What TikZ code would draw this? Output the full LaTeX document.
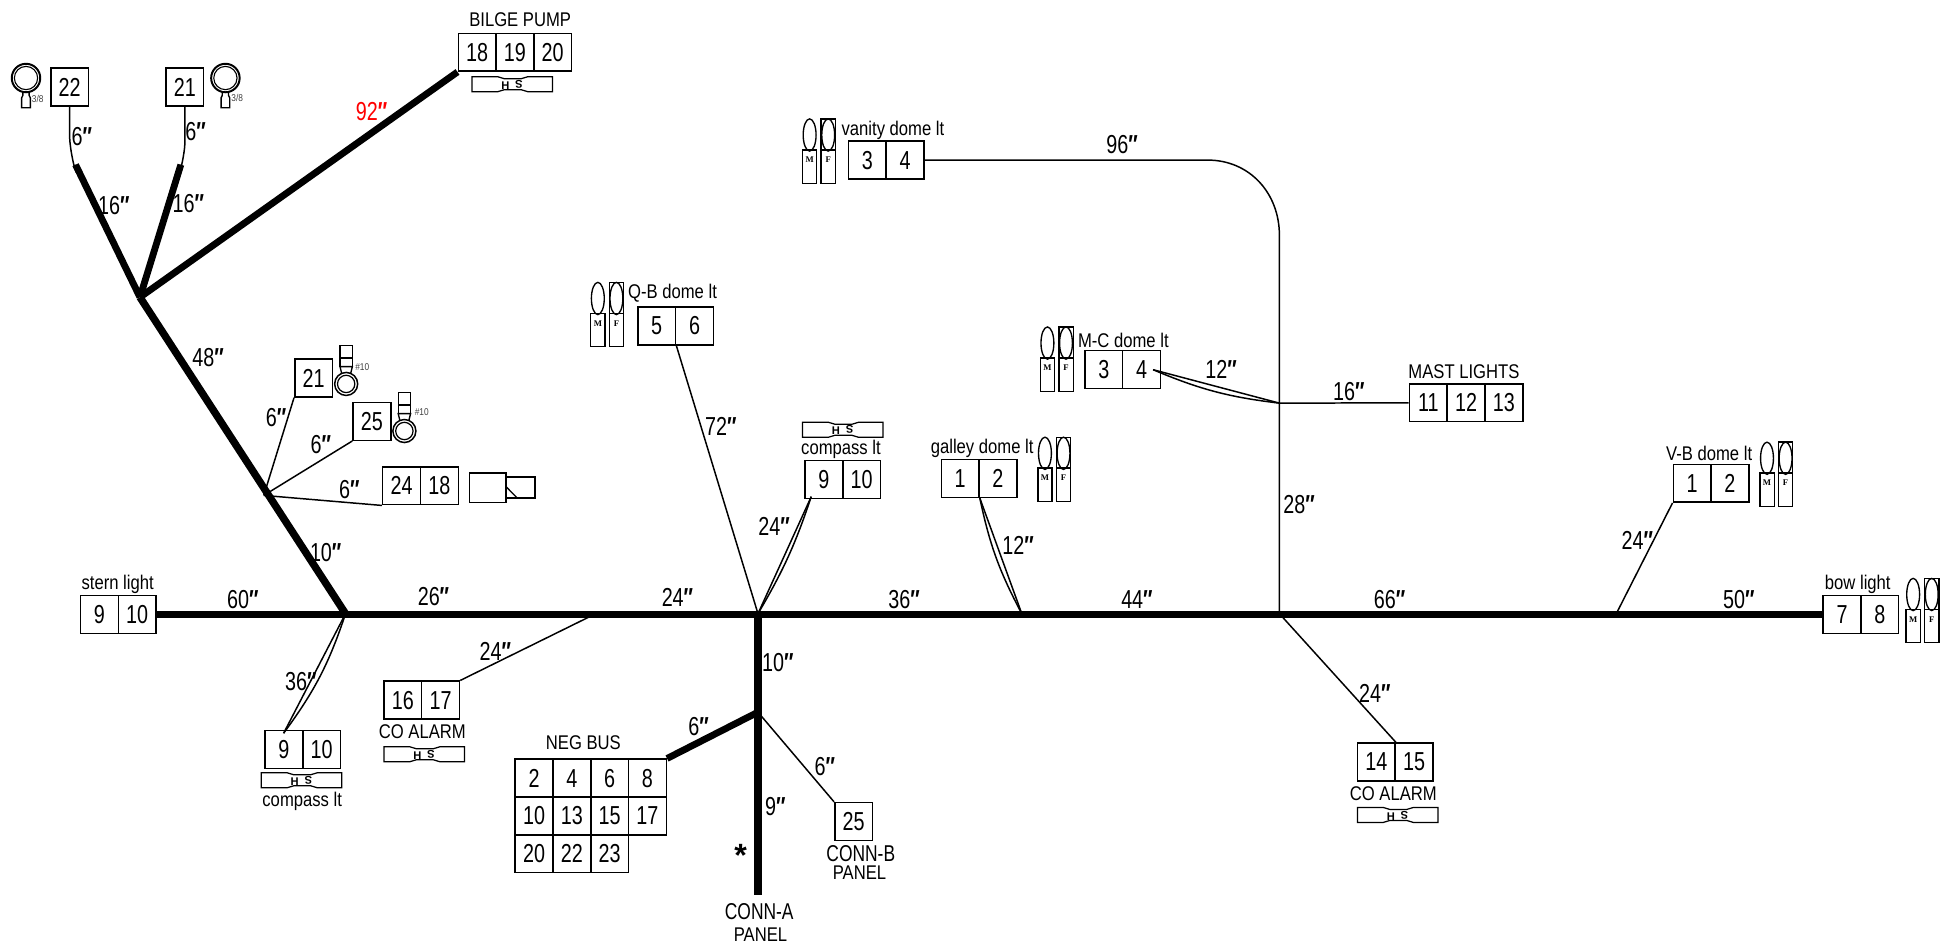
\documentclass[tikz,border=0pt]{standalone}
\usepackage{fontspec}
\usepackage{graphicx}
\setmainfont{Liberation Sans}
\newfontfamily\lblfont[FakeStretch=0.84]{Liberation Sans}
\newfontfamily\numfont[FakeStretch=0.76]{Liberation Sans}
\newfontfamily\mffont{Liberation Serif}
\newcommand\inch{{\bfseries\char"2033\relax}}
\tikzset{
  x=1pt,y=-1pt,
  thinw/.style={line width=1.2pt},
  thickw/.style={line width=6pt},
  cell/.style={draw,line width=1.2pt,minimum width=30.5pt,minimum height=30.5pt,inner sep=0pt,font=\numfont\fontsize{21}{21}\selectfont},
  lbl/.style={inner sep=0pt,font=\lblfont\fontsize{16}{16}\selectfont},
  len/.style={inner sep=0pt,font=\numfont\fontsize{21}{21}\selectfont},
  tiny/.style={inner sep=0pt,text=black!75,font=\lblfont\fontsize{8}{8}\selectfont},
  cad/.style={inner sep=0pt,font=\numfont\fontsize{18.5}{18.5}\selectfont},
  hstag/.pic={
    \draw[line width=1pt] (0,0) -- (21,0) -- (26,1.5) -- (40,1.5) -- (45,0) -- (65,0) -- (65,12) -- (45,12) -- (40,10.5) -- (26,10.5) -- (21,12) -- (0,12) -- cycle;
    \node[inner sep=0pt,font=\bfseries\fontsize{9}{9}\selectfont] (-h) at (27,7) {H};
    \node[inner sep=0pt,rotate=180,font=\bfseries\fontsize{9}{9}\selectfont] (-s) at (38,6) {S};
  },
  mfpair/.pic={
    \draw[line width=1.1pt] (5.7,13) ellipse (5.2 and 13);
    \draw[line width=1.1pt] (0,25) rectangle (11.5,52);
    \node[inner sep=0pt,font=\mffont\bfseries\fontsize{7}{7}\selectfont] (-m) at (5.7,33) {M};
    \draw[line width=1.1pt] (15,0) rectangle (26.5,52);
    \draw[line width=1.1pt] (15,25) -- (26.5,25);
    \draw[line width=1.1pt] (20.7,13) ellipse (5.2 and 13);
    \node[inner sep=0pt,font=\mffont\bfseries\fontsize{7}{7}\selectfont] (-f) at (20.7,33) {F};
  },
  loopring/.pic={
    \draw[line width=1.6pt] (0,0) circle (11.5);
    \draw[line width=.9pt] (0,0) circle (9.4);
    \draw[line width=1.1pt] (-2.5,11.3) -- (-2.5,14) -- (-3.5,16) -- (-3.5,24) -- (3.5,24) -- (3.5,16) -- (2.5,14) -- (2.5,11.3);
  },
  eyering/.pic={
    \draw[line width=1.2pt] (0,0) circle (9.3);
    \draw[line width=1pt] (0,0) circle (7);
    \draw[line width=1.1pt] (-3.5,-8) -- (-5,-14) -- (5,-14) -- (3.5,-8);
    \draw[line width=1.1pt] (-5,-14) -- (-5,-31) -- (5,-31) -- (5,-14);
    \draw[line width=1.1pt] (-5,-21) -- (5,-21);
  },
}
\newcommand\boxrow[4]{\foreach \t [count=\i] in {#4} {\node[cell] (#1-\i) at ({#2+(\i-0.5)*30.5},{#3+15.25}) {\t};}}
\begin{document}
\begin{tikzpicture}
\useasboundingbox (0,0) rectangle (1568,764.6);
% junctions
\coordinate (jA) at (113,240);
\coordinate (jB) at (213,400);
\coordinate (jC) at (279,495.5);
\coordinate (jD) at (481,495.5);
\coordinate (jE) at (612,495.5);
\coordinate (jF) at (825,495.5);
\coordinate (jG) at (1033,495.5);
\coordinate (jH) at (1305,495.5);
\coordinate (jI) at (612,575);
\coordinate (jJ) at (1033,325.5);
\coordinate (jK) at (612,723);
\coordinate (t22) at (61,133);
\coordinate (t21) at (146,133);
% boxes
\boxrow{stern}{65}{481}{9,10}
\boxrow{bow}{1472}{481}{7,8}
\boxrow{a}{41}{55}{22}
\boxrow{b}{134}{55}{21}
\boxrow{bilge}{370}{27}{18,19,20}
\boxrow{c}{238}{290}{21}
\boxrow{d}{285}{325}{25}
\boxrow{e}{309}{377}{24,18}
\boxrow{qb}{515}{248}{5,6}
\boxrow{compU}{650}{372}{9,10}
\boxrow{gal}{760}{371}{1,2}
\boxrow{van}{685}{114}{3,4}
\boxrow{mc}{876}{283}{3,4}
\boxrow{mast}{1138}{310}{11,12,13}
\boxrow{vb}{1351}{375}{1,2}
\boxrow{coR}{1096}{600}{14,15}
\boxrow{coL}{310}{550}{16,17}
\boxrow{compL}{214}{590}{9,10}
\boxrow{negA}{416}{613}{2,4,6,8}
\boxrow{negB}{416}{643.5}{10,13,15,17}
\boxrow{negC}{416}{674}{20,22,23}
\boxrow{f}{674}{648}{25}
% thick wires
\draw[thickw] (stern-2.east) -- (bow-1.west);
\draw[thickw] (jE) -- (jK);
\draw[thickw] (jA) -- (jC);
\draw[line width=5.5pt] (t22) -- (jA);
\draw[line width=5.5pt] (t21) -- (jA);
\draw[line width=5.5pt] (bilge-1.south west) -- (jA);
\draw[line width=5.5pt] (jI) -- (negA-4.north east);
% thin wires
\draw[thinw] (a-1.south) -- ++(0,24) .. controls +(0,12) and +(2,16) .. (t22);
\draw[thinw] (b-1.south) -- ++(0,30) .. controls +(0,6) and +(-1,10) .. (t21);
\draw[thinw] (jB) -- (c-1.south west);
\draw[thinw] (jB) -- (d-1.south west);
\draw[thinw] (jB) -- (e-1.south west);
\draw[thinw] (qb-1.south east) -- (jE);
\draw[thinw] (jE) -- (655,401) coordinate (w1);
\draw[thinw] (jE) to[bend right=6] (w1);
\draw[thinw] (gal-1.south east) -- (jF);
\draw[thinw] (gal-1.south east) to[bend right=8] (jF);
\draw[thinw] (van-2.east) -- (975,129.25) .. controls (1009,129.25) and (1033,156) .. (1033,190) -- (jG);
\draw[thinw] (931,298.5) coordinate (w2) -- (jJ);
\draw[thinw] (w2) to[bend right=8] (jJ);
\draw[thinw] (jJ) -- (mast-1.west);
\draw[thinw] (vb-1.south west) -- (jH);
\draw[thinw] (jG) -- (coR-1.north east);
\draw[thinw] (coL-2.north east) -- (jD);
\draw[thinw] (jC) -- (229,592) coordinate (w3);
\draw[thinw] (w3) to[bend right=9] (jC);
\draw[thinw] (jI) -- (f-1.north west);
% accessories
\pic (hs1) at (381,62) {hstag};
\pic (hs2) at (648,341) {hstag};
\pic (hs3) at (1096,652) {hstag};
\pic (hs4) at (310,603) {hstag};
\pic (hs5) at (211,624) {hstag};
\pic (mf1) at (477,228) {mfpair};
\pic (mf2) at (648,96) {mfpair};
\pic (mf3) at (840,264) {mfpair};
\pic (mf4) at (838,353) {mfpair};
\pic (mf5) at (1421,357) {mfpair};
\pic (mf6) at (1539,467) {mfpair};
\pic (r1) at (21,63) {loopring};
\pic (r2) at (182,63) {loopring};
\pic (r3) at (279.5,310) {eyering};
\pic (r4) at (326.5,348) {eyering};
\draw[line width=1.1pt] (379,382) rectangle (408.6,405.5);
\draw[line width=1.1pt] (408.6,385) rectangle (432,402);
\draw[line width=1.1pt] (408.6,393) -- (417.5,402);
% small labels
\node[tiny] (t1) at (30.5,80) {3/8};
\node[tiny] (t2) at (191.5,79) {3/8};
\node[tiny] (t3) at (292.5,296) {\#10};
\node[tiny] (t4) at (340.5,333) {\#10};
% text labels
\node[lbl] (l1) at (420,16) {BILGE PUMP};
\node[lbl] (l2) at (95,472) {stern light};
\node[lbl] (l3) at (1500,472) {bow light};
\node[lbl] (l4) at (543,237) {Q-B dome lt};
\node[lbl] (l5) at (679,363) {compass lt};
\node[lbl] (l6) at (793,362) {galley dome lt};
\node[lbl] (l7) at (721,105) {vanity dome lt};
\node[lbl] (l8) at (907,275) {M-C dome lt};
\node[lbl] (l9) at (1182,300) {MAST LIGHTS};
\node[lbl] (l10) at (1380,366) {V-B dome lt};
\node[lbl] (l11) at (1125,641) {CO ALARM};
\node[lbl] (l12) at (341,591) {CO ALARM};
\node[lbl] (l13) at (244,647) {compass lt};
\node[lbl] (l14) at (471,600) {NEG BUS};
\node[cad] (l15) at (613,736) {CONN-A};
\node[lbl] (l16) at (614,755) {PANEL};
\node[cad] (l17) at (695,689) {CONN-B};
\node[lbl] (l18) at (694,705) {PANEL};
\node[inner sep=0pt,font=\bfseries\fontsize{26}{26}\selectfont] (star) at (598,691) {*};
% lengths
\node[len] (n1) at (66,110) {6\inch};
\node[len] (n2) at (92,166) {16\inch};
\node[len] (n3) at (158,106) {6\inch};
\node[len] (n4) at (152,164) {16\inch};
\node[len,text=red] (n5) at (300,90) {92\inch};
\node[len] (n6) at (168,289) {48\inch};
\node[len] (n7) at (223,337) {6\inch};
\node[len] (n8) at (259,359) {6\inch};
\node[len] (n9) at (282,395) {6\inch};
\node[len] (n10) at (263,446) {10\inch};
\node[len] (n11) at (196,484) {60\inch};
\node[len] (n12) at (350,482) {26\inch};
\node[len] (n13) at (547,482) {24\inch};
\node[len] (n14) at (730,484) {36\inch};
\node[len] (n15) at (918,484) {44\inch};
\node[len] (n16) at (1122,484) {66\inch};
\node[len] (n17) at (1404,484) {50\inch};
\node[len] (n18) at (582,344) {72\inch};
\node[len] (n19) at (625,425) {24\inch};
\node[len] (n20) at (822,440) {12\inch};
\node[len] (n21) at (906,117) {96\inch};
\node[len] (n22) at (986,298) {12\inch};
\node[len] (n23) at (1089,316) {16\inch};
\node[len] (n24) at (1049,407) {28\inch};
\node[len] (n25) at (1322,436) {24\inch};
\node[len] (n26) at (1110,560) {24\inch};
\node[len] (n27) at (400,526) {24\inch};
\node[len] (n28) at (243,550) {36\inch};
\node[len] (n29) at (564,587) {6\inch};
\node[len] (n30) at (628,535) {10\inch};
\node[len] (n31) at (626,651) {9\inch};
\node[len] (n32) at (666,619) {6\inch};
\end{tikzpicture}
\end{document}
